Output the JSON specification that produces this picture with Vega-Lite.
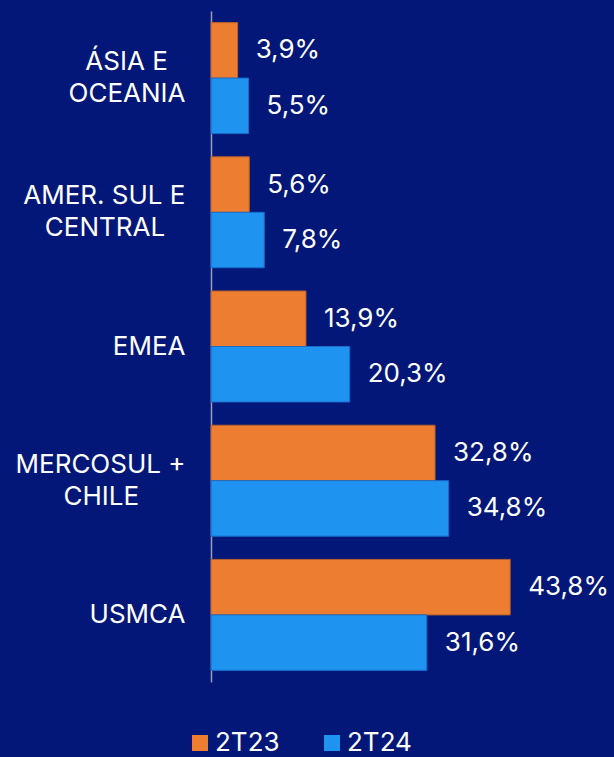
{
  "$schema": "https://vega.github.io/schema/vega-lite/v6.json",
  "autosize": {"type": "none"},
  "width": 403,
  "height": 671,
  "padding": {"left": 211, "top": 11, "right": 0, "bottom": 75},
  "background": "#021778",
  "data": {
    "values": [
      {"cat": "ÁSIA E|OCEANIA", "serie": "2T23", "v": 3.9},
      {"cat": "ÁSIA E|OCEANIA", "serie": "2T24", "v": 5.5},
      {"cat": "AMER. SUL E|CENTRAL", "serie": "2T23", "v": 5.6},
      {"cat": "AMER. SUL E|CENTRAL", "serie": "2T24", "v": 7.8},
      {"cat": "EMEA", "serie": "2T23", "v": 13.9},
      {"cat": "EMEA", "serie": "2T24", "v": 20.3},
      {"cat": "MERCOSUL +|CHILE", "serie": "2T23", "v": 32.8},
      {"cat": "MERCOSUL +|CHILE", "serie": "2T24", "v": 34.8},
      {"cat": "USMCA", "serie": "2T23", "v": 43.8},
      {"cat": "USMCA", "serie": "2T24", "v": 31.6}
    ]
  },
  "transform": [
    {"calculate": "replace(format(datum.v, '.1f'), '.', ',') + '%'", "as": "lbl"}
  ],
  "encoding": {
    "y": {
      "field": "cat",
      "type": "nominal",
      "sort": null,
      "scale": {"paddingInner": 0.173, "paddingOuter": 0.0865},
      "axis": {
        "title": null,
        "domain": true,
        "domainColor": "#9a9cb4",
        "domainWidth": 1.5,
        "ticks": false,
        "tickSize": 0,
        "labelColor": "#ffffff",
        "labelFont": "Inter",
        "labelFontSize": 26,
        "labelAlign": "right",
        "labelBaseline": {
          "condition": {"test": "indexof(datum.value, '|') >= 0", "value": "line-bottom"},
          "value": "middle"
        },
        "labelLineHeight": 32,
        "labelPadding": 26,
        "labelLimit": 300,
        "labelExpr": "datum.value === 'ÁSIA E|OCEANIA' ? ['ÁSIA E\u2002\u2009\u200b', 'OCEANIA'] : datum.value === 'AMER. SUL E|CENTRAL' ? ['AMER. SUL E', 'CENTRAL\u2002\u00a0\u200b'] : datum.value === 'MERCOSUL +|CHILE' ? ['MERCOSUL +', 'CHILE\u2002\u2002\u2002\u00a0\u200b'] : datum.value"
      }
    },
    "yOffset": {
      "field": "serie",
      "type": "nominal",
      "sort": ["2T23", "2T24"],
      "scale": {"paddingInner": 0, "paddingOuter": 0}
    },
    "x": {
      "field": "v",
      "type": "quantitative",
      "scale": {"domain": [0, 59], "nice": false},
      "axis": null
    }
  },
  "layer": [
    {
      "mark": {"type": "bar", "strokeWidth": 1},
      "encoding": {
        "color": {
          "field": "serie",
          "type": "nominal",
          "sort": ["2T23", "2T24"],
          "scale": {"domain": ["2T23", "2T24"], "range": ["#ED7D31", "#1E93F0"]},
          "legend": {
            "title": null,
            "orient": "none",
            "legendX": -24,
            "legendY": 719,
            "direction": "horizontal",
            "symbolType": "square",
            "symbolSize": 256,
            "symbolStrokeWidth": 0,
            "labelColor": "#ffffff",
            "labelFont": "Inter",
            "labelFontSize": 26,
            "labelOffset": 2,
            "columnPadding": 39
          }
        },
        "stroke": {
          "field": "serie",
          "type": "nominal",
          "scale": {"domain": ["2T23", "2T24"], "range": ["#b8602a", "#1a6cc8"]},
          "legend": null
        }
      }
    },
    {
      "mark": {"type": "text", "align": "left", "baseline": "middle", "dx": 18, "font": "Inter", "fontSize": 26, "color": "#ffffff"},
      "encoding": {
        "text": {"field": "lbl"}
      }
    }
  ],
  "config": {
    "view": {"stroke": null},
    "font": "Inter"
  }
}
